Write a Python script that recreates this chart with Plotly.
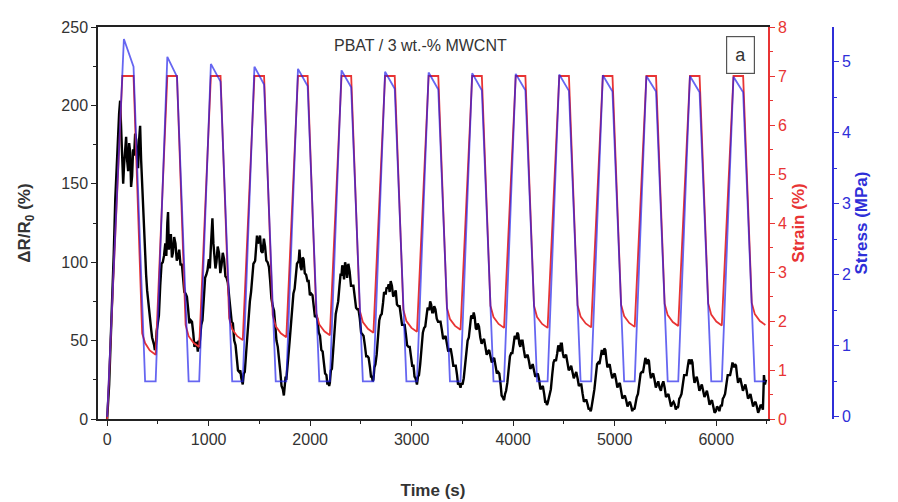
import plotly.graph_objects as go

# ---------------- data ----------------
# Stress (MPa) key points of the loading cycles
stress_time = [0, 165, 260, 374, 478,
               593, 688, 803, 907,
               1022, 1117, 1232, 1336,
               1451, 1546, 1661, 1765,
               1880, 1975, 2090, 2194,
               2309, 2404, 2519, 2623,
               2738, 2833, 2948, 3052,
               3167, 3262, 3377, 3481,
               3596, 3691, 3806, 3910,
               4025, 4120, 4235, 4339,
               4454, 4549, 4664, 4768,
               4883, 4978, 5093, 5197,
               5312, 5407, 5522, 5626,
               5741, 5836, 5951, 6055,
               6170, 6265, 6380, 6484]
stress_mpa = [0.0, 5.32, 4.93, 0.5, 0.5,
              5.07, 4.79, 0.5, 0.5,
              4.97, 4.72, 0.5, 0.5,
              4.93, 4.68, 0.5, 0.5,
              4.90, 4.66, 0.5, 0.5,
              4.88, 4.64, 0.5, 0.5,
              4.86, 4.62, 0.5, 0.5,
              4.85, 4.61, 0.5, 0.5,
              4.84, 4.60, 0.5, 0.5,
              4.83, 4.60, 0.5, 0.5,
              4.82, 4.59, 0.5, 0.5,
              4.81, 4.58, 0.5, 0.5,
              4.80, 4.58, 0.5, 0.5,
              4.80, 4.57, 0.5, 0.5,
              4.79, 4.57, 0.5, 0.5]

# Strain (%) key points
strain_time = [0, 150, 260, 345, 374, 420, 478,
               593, 688, 773, 803, 853, 907,
               1022, 1117, 1202, 1232, 1282, 1336,
               1451, 1546, 1631, 1661, 1711, 1765,
               1880, 1975, 2060, 2090, 2140, 2194,
               2309, 2404, 2489, 2519, 2569, 2623,
               2738, 2833, 2918, 2948, 2998, 3052,
               3167, 3262, 3347, 3377, 3427, 3481,
               3596, 3691, 3776, 3806, 3856, 3910,
               4025, 4120, 4205, 4235, 4285, 4339,
               4454, 4549, 4634, 4664, 4714, 4768,
               4883, 4978, 5063, 5093, 5143, 5197,
               5312, 5407, 5492, 5522, 5572, 5626,
               5741, 5836, 5921, 5951, 6001, 6055,
               6170, 6265, 6350, 6380, 6430, 6484]
strain_pct = [0.0, 7.0, 7.0, 1.75, 1.55, 1.40, 1.31,
              7.0, 7.0, 1.92, 1.69, 1.55, 1.47,
              7.0, 7.0, 2.06, 1.83, 1.69, 1.61,
              7.0, 7.0, 2.12, 1.89, 1.75, 1.67,
              7.0, 7.0, 2.16, 1.93, 1.79, 1.71,
              7.0, 7.0, 2.21, 1.98, 1.84, 1.76,
              7.0, 7.0, 2.23, 2.00, 1.86, 1.78,
              7.0, 7.0, 2.27, 2.04, 1.90, 1.82,
              7.0, 7.0, 2.31, 2.08, 1.94, 1.86,
              7.0, 7.0, 2.31, 2.08, 1.94, 1.86,
              7.0, 7.0, 2.32, 2.09, 1.95, 1.87,
              7.0, 7.0, 2.33, 2.10, 1.96, 1.88,
              7.0, 7.0, 2.35, 2.12, 1.98, 1.90,
              7.0, 7.0, 2.36, 2.13, 1.99, 1.91,
              7.0, 7.0, 2.37, 2.14, 2.00, 1.92]

# Relative resistance change dR/R0 (%), one row per loading cycle
dr_time = [
    0, 10, 20, 35, 50, 65, 80, 94, 108, 118, 128, 138, 148, 158, 167, 177, 187, 197, 207, 217, 227, 236, 246, 256,
    266, 276, 286, 296, 305, 315, 325, 335, 345, 355, 364, 374, 384, 394, 404, 414, 424, 434, 443, 453, 463, 470,
    478, 488, 498, 510, 523, 536, 548, 560, 573, 583, 593, 600, 608, 618, 628, 638, 648, 660, 673, 686, 698, 710, 723, 736, 748, 760, 773, 786, 798, 810, 823, 836, 848, 860, 873, 883, 893, 900,
    907, 917, 927, 939, 952, 965, 977, 989, 1002, 1012, 1022, 1029, 1037, 1047, 1057, 1067, 1077, 1089, 1102, 1115, 1127, 1139, 1152, 1165, 1177, 1189, 1202, 1215, 1227, 1239, 1252, 1265, 1277, 1289, 1302, 1312, 1322, 1329,
    1336, 1346, 1356, 1368, 1381, 1394, 1406, 1418, 1431, 1441, 1451, 1458, 1466, 1476, 1486, 1496, 1506, 1518, 1531, 1544, 1556, 1568, 1581, 1594, 1606, 1618, 1631, 1644, 1656, 1668, 1681, 1694, 1706, 1718, 1731, 1741, 1751, 1758,
    1765, 1775, 1785, 1797, 1810, 1823, 1835, 1847, 1860, 1870, 1880, 1887, 1895, 1905, 1915, 1925, 1935, 1947, 1960, 1973, 1985, 1997, 2010, 2023, 2035, 2047, 2060, 2073, 2085, 2097, 2110, 2123, 2135, 2147, 2160, 2170, 2180, 2187,
    2194, 2204, 2214, 2226, 2239, 2252, 2264, 2276, 2289, 2299, 2309, 2316, 2324, 2334, 2344, 2354, 2364, 2376, 2389, 2402, 2414, 2426, 2439, 2452, 2464, 2476, 2489, 2502, 2514, 2526, 2539, 2552, 2564, 2576, 2589, 2599, 2609, 2616,
    2623, 2633, 2643, 2655, 2668, 2681, 2693, 2705, 2718, 2728, 2738, 2745, 2753, 2763, 2773, 2783, 2793, 2805, 2818, 2831, 2843, 2855, 2868, 2881, 2893, 2905, 2918, 2931, 2943, 2955, 2968, 2981, 2993, 3005, 3018, 3028, 3038, 3045,
    3052, 3062, 3072, 3084, 3097, 3110, 3122, 3134, 3147, 3157, 3167, 3174, 3182, 3192, 3202, 3212, 3222, 3234, 3247, 3260, 3272, 3284, 3297, 3310, 3322, 3334, 3347, 3360, 3372, 3384, 3397, 3410, 3422, 3434, 3447, 3457, 3467, 3474,
    3481, 3491, 3501, 3513, 3526, 3539, 3551, 3563, 3576, 3586, 3596, 3603, 3611, 3621, 3631, 3641, 3651, 3663, 3676, 3689, 3701, 3713, 3726, 3739, 3751, 3763, 3776, 3789, 3801, 3813, 3826, 3839, 3851, 3863, 3876, 3886, 3896, 3903,
    3910, 3920, 3930, 3942, 3955, 3968, 3980, 3992, 4005, 4015, 4025, 4032, 4040, 4050, 4060, 4070, 4080, 4092, 4105, 4118, 4130, 4142, 4155, 4168, 4180, 4192, 4205, 4218, 4230, 4242, 4255, 4268, 4280, 4292, 4305, 4315, 4325, 4332,
    4339, 4349, 4359, 4371, 4384, 4397, 4409, 4421, 4434, 4444, 4454, 4461, 4469, 4479, 4489, 4499, 4509, 4521, 4534, 4547, 4559, 4571, 4584, 4597, 4609, 4621, 4634, 4647, 4659, 4671, 4684, 4697, 4709, 4721, 4734, 4744, 4754, 4761,
    4768, 4778, 4788, 4800, 4813, 4826, 4838, 4850, 4863, 4873, 4883, 4890, 4898, 4908, 4918, 4928, 4938, 4950, 4963, 4976, 4988, 5000, 5013, 5026, 5038, 5050, 5063, 5076, 5088, 5100, 5113, 5126, 5138, 5150, 5163, 5173, 5183, 5190,
    5197, 5207, 5217, 5229, 5242, 5255, 5267, 5279, 5292, 5302, 5312, 5319, 5327, 5337, 5347, 5357, 5367, 5379, 5392, 5405, 5417, 5429, 5442, 5455, 5467, 5479, 5492, 5505, 5517, 5529, 5542, 5555, 5567, 5579, 5592, 5602, 5612, 5619,
    5626, 5636, 5646, 5658, 5671, 5684, 5696, 5708, 5721, 5731, 5741, 5748, 5756, 5766, 5776, 5786, 5796, 5808, 5821, 5834, 5846, 5858, 5871, 5884, 5896, 5908, 5921, 5934, 5946, 5958, 5971, 5984, 5996, 6008, 6021, 6031, 6041, 6048,
    6055, 6065, 6075, 6087, 6100, 6113, 6125, 6137, 6150, 6160, 6170, 6177, 6185, 6195, 6205, 6215, 6225, 6237, 6250, 6263, 6275, 6287, 6300, 6313, 6325, 6337, 6350, 6363, 6375, 6387, 6400, 6413, 6425, 6437, 6450, 6460, 6470, 6480, 6490,
]
dr_pct = [
    0, 8, 22, 50, 75, 105, 140, 160, 185, 195, 203, 182, 175, 150, 162, 172, 180, 165, 158, 176, 170, 148, 155, 172,
    168, 182, 178, 165, 160, 178, 187, 165, 150, 128, 118, 102, 92, 82, 75, 68, 60, 57, 52, 50, 47, 44,
    45, 56, 62, 66, 85, 99, 100, 104, 112, 104, 125, 132, 108, 114, 118, 103, 106, 116, 112, 101, 103, 108, 98, 99, 90, 81, 80, 78, 70, 61, 63, 62, 55, 46, 48, 49, 43, 50,
    45, 55, 60, 63, 78, 90, 92, 95, 102, 96, 110, 118, 128, 112, 104, 96, 100, 110, 106, 93, 98, 106, 102, 91, 90, 87, 78, 67, 62, 61, 50, 47, 38, 31, 30, 31, 26, 23,
    22, 29, 30, 41, 55, 70, 75, 81, 90, 99, 100, 101, 108, 117, 112, 113, 117, 107, 106, 115, 110, 101, 100, 97, 88, 77, 72, 69, 60, 50, 46, 39, 30, 21, 19, 15, 24, 27,
    25, 35, 40, 49, 62, 75, 80, 83, 90, 99, 100, 101, 108, 97, 95, 103, 102, 93, 92, 88, 88, 79, 80, 79, 72, 65, 66, 63, 55, 53, 44, 43, 36, 29, 28, 22, 24, 21,
    23, 31, 32, 41, 55, 67, 72, 75, 85, 92, 92, 98, 96, 89, 100, 97, 90, 99, 94, 85, 85, 85, 78, 71, 70, 70, 64, 55, 54, 53, 47, 40, 40, 39, 33, 27, 27, 24,
    25, 33, 35, 41, 52, 63, 66, 67, 74, 81, 80, 80, 84, 83, 86, 81, 88, 85, 78, 81, 82, 73, 72, 72, 66, 60, 60, 60, 54, 47, 46, 46, 40, 34, 34, 27, 26, 22,
    22, 27, 28, 35, 45, 55, 58, 59, 66, 71, 70, 70, 75, 73, 68, 68, 72, 70, 64, 62, 62, 62, 57, 51, 52, 53, 48, 43, 44, 45, 40, 34, 34, 34, 28, 22, 23, 20,
    20, 23, 22, 26, 35, 46, 50, 52, 60, 66, 65, 64, 68, 65, 58, 57, 61, 59, 52, 48, 50, 51, 46, 41, 43, 44, 40, 36, 38, 39, 34, 29, 30, 29, 22, 15, 14, 12,
    12, 16, 18, 23, 32, 40, 42, 42, 48, 53, 52, 51, 55, 54, 48, 46, 50, 50, 44, 39, 40, 41, 37, 32, 33, 35, 31, 27, 28, 29, 25, 19, 20, 21, 16, 11, 11, 9,
    10, 13, 14, 19, 28, 36, 38, 37, 42, 47, 45, 43, 48, 48, 42, 39, 40, 41, 36, 31, 32, 34, 30, 26, 28, 30, 26, 21, 22, 22, 16, 11, 12, 12, 9, 6, 7, 5,
    6, 12, 14, 19, 28, 35, 36, 35, 40, 44, 42, 41, 45, 44, 38, 33, 34, 35, 30, 26, 28, 29, 25, 20, 22, 23, 18, 13, 14, 15, 12, 8, 10, 11, 8, 5, 7, 6,
    7, 12, 14, 16, 22, 29, 30, 30, 35, 39, 37, 35, 38, 37, 30, 26, 28, 29, 25, 20, 22, 24, 20, 18, 22, 24, 20, 14, 15, 16, 12, 8, 10, 11, 9, 6, 8, 7,
    8, 13, 14, 16, 22, 28, 28, 28, 34, 38, 36, 35, 38, 36, 28, 23, 25, 27, 23, 18, 20, 22, 18, 14, 16, 18, 14, 9, 11, 12, 8, 4, 5, 8, 7, 5, 8, 9,
    8, 13, 14, 16, 22, 28, 28, 28, 32, 36, 34, 33, 35, 34, 28, 23, 25, 26, 22, 18, 20, 22, 18, 13, 14, 16, 12, 8, 10, 11, 8, 4, 6, 9, 8, 6, 28, 22, 25,
]

x_ticks = [0, 1000, 2000, 3000, 4000, 5000, 6000]
dr_ticks = [0, 50, 100, 150, 200, 250]
strain_ticks = [0, 1, 2, 3, 4, 5, 6, 7, 8]
stress_ticks = [0, 1, 2, 3, 4, 5]

# ---------------- styling ----------------
FONT = "Liberation Sans, Arial, sans-serif"
RED = "#e83434"
BLUE = "#2f2fd8"
GRAY = "#333333"

fig = go.Figure()
fig.add_trace(go.Scatter(x=dr_time, y=dr_pct, mode="lines", yaxis="y",
                         line=dict(color="#000000", width=2.4), showlegend=False))
fig.add_trace(go.Scatter(x=strain_time, y=strain_pct, mode="lines", yaxis="y2",
                         line=dict(color=RED, width=1.8), showlegend=False))
fig.add_trace(go.Scatter(x=stress_time, y=stress_mpa, mode="lines", yaxis="y3",
                         line=dict(color="rgba(30,30,235,0.68)", width=1.8), showlegend=False))

L, R, T, B = 98, 20, 27, 83
W, H = 898, 502
pw = W - L - R
ph = H - T - B
x_end = (768 - L) / pw
stress_pos = (833 - L) / pw

fig.update_layout(
    width=W, height=H,
    margin=dict(l=L, r=R, t=T, b=B),
    paper_bgcolor="white", plot_bgcolor="white",
    font=dict(family=FONT, size=16, color=GRAY),
    xaxis=dict(domain=[0, x_end], range=[-90, 6510], tickvals=x_ticks, automargin=False,
               showgrid=False, zeroline=False, showline=True, linecolor="#222", linewidth=1.5,
               mirror=True, ticks="outside", ticklen=5, tickcolor="#222",
               minor=dict(dtick=500, tick0=0, ticks="outside", ticklen=3, tickcolor="#222"),
               tickfont=dict(size=16, color=GRAY),
               title=dict(text="<b>Time (s)</b>", font=dict(size=17, color=GRAY), standoff=37)),
    yaxis=dict(range=[0, 250], tickvals=dr_ticks, showgrid=False, zeroline=False, automargin=False,
               showline=True, linecolor="#222", linewidth=1.5, ticks="outside", ticklen=5,
               tickcolor="#222",
               minor=dict(dtick=25, tick0=0, ticks="outside", ticklen=3, tickcolor="#222"),
               tickfont=dict(size=16, color=GRAY),
               title=dict(text="<b>ΔR/R<sub>0</sub> (%)</b>", font=dict(size=17, color=GRAY), standoff=26)),
    yaxis2=dict(range=[0, 8], tickvals=strain_ticks, overlaying="y", side="right", anchor="x",
                showgrid=False, zeroline=False, showline=True, linecolor=RED, linewidth=1.5,
                ticks="outside", ticklen=5, tickcolor=RED,
                minor=dict(dtick=0.5, tick0=0, ticks="outside", ticklen=3, tickcolor=RED),
                tickfont=dict(size=16, color=RED),
                title=dict(text="<b>Strain (%)</b>", font=dict(size=17, color=RED), standoff=6)),
    yaxis3=dict(range=[-0.03, 5.49], tickvals=stress_ticks, overlaying="y", side="right",
                anchor="free", position=stress_pos,
                showgrid=False, zeroline=False, showline=True, linecolor=BLUE, linewidth=1.5,
                ticks="outside", ticklen=5, tickcolor=BLUE,
                minor=dict(dtick=0.5, tick0=0, ticks="outside", ticklen=3, tickcolor=BLUE),
                tickfont=dict(size=16, color=BLUE),
                title=dict(text="<b>Stress (MPa)</b>", font=dict(size=17, color=BLUE), standoff=4)),
    annotations=[
        dict(text="PBAT / 3 wt.-% MWCNT", xref="paper", yref="paper",
             x=(420 - L) / pw, y=(419 - 45) / ph, showarrow=False,
             font=dict(size=16, color=GRAY), xanchor="center", yanchor="middle"),
        dict(text="a", xref="paper", yref="paper",
             x=(740 - L) / pw, y=(419 - 55) / ph, showarrow=False,
             font=dict(size=18, color=GRAY), xanchor="center", yanchor="middle",
             bordercolor="#555", borderwidth=1.2, borderpad=8, bgcolor="white"),
    ],
)

fig.write_html("out.html")
